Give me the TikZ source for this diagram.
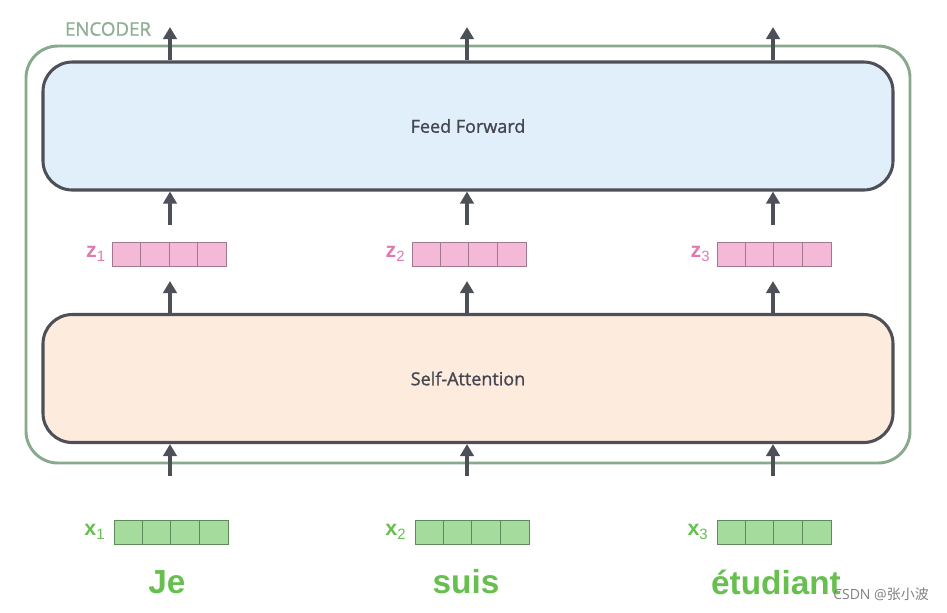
\documentclass[tikz,border=0pt]{standalone}
\usepackage{fontspec}
\setmainfont{Open Sans}
\setsansfont{Liberation Sans}
\newfontfamily\cjkfont{Noto Sans CJK SC}
\newfontfamily\semifont[FakeBold=1.2]{Open Sans}
\usetikzlibrary{arrows.meta}

\definecolor{boxline}{HTML}{4E5058}
\definecolor{ffblue}{HTML}{E1EFFB}
\definecolor{safill}{HTML}{FDEBDD}
\definecolor{encgreen}{HTML}{88A98C}
\definecolor{enctext}{HTML}{8FAE94}
\definecolor{zfill}{HTML}{F5B9D8}
\definecolor{zline}{HTML}{A07A8C}
\definecolor{zlabel}{HTML}{E07AAE}
\definecolor{xfill}{HTML}{A6DB9E}
\definecolor{xline}{HTML}{5E8A5A}
\definecolor{wordgreen}{HTML}{66BF4F}
\definecolor{labelgray}{HTML}{44474F}

\tikzset{
    encbox/.style={draw=encgreen, line width=2.2pt, rounded corners=24pt,
        minimum width=663pt, minimum height=312.75pt},
    layerbox/.style={draw=boxline, line width=2.3pt, rounded corners=22pt,
        minimum width=637.5pt, minimum height=96pt, text=labelgray,
        font=\semifont\fontsize{13.5}{15}\selectfont},
    uparrow/.style={draw=boxline, line width=2.5pt, -{Triangle[width=10pt,length=9pt]}},
    veclabel/.style={anchor=east, inner sep=0pt, font=\sffamily\bfseries\fontsize{16}{18}\selectfont},
    word/.style={inner sep=0pt, text=wordgreen, font=\sffamily\bfseries\fontsize{25}{28}\selectfont}
}

% name, x, y, fill, line
\newcommand\cellrow[5]{
    \node[draw=#5, fill=#4, line width=0.6pt, minimum width=85.5pt,
        minimum height=18pt, inner sep=0pt] (#1) at (#2,#3) {};
    \foreach \k in {1,2,3}
        \draw[#5, line width=0.6pt] ([xshift=\k*21.375pt]#1.north west) -- ([xshift=\k*21.375pt]#1.south west);
}

\begin{document}
\begin{tikzpicture}[x=0.75pt, y=-0.75pt]
    \useasboundingbox (0,0) rectangle (947,612);

    % encoder frame
    \node[encbox] (enc) at (468,254.5) {};
    \node[text=enctext, font=\semifont\fontsize{14}{16}\selectfont, inner sep=0pt] (enclab) at (108,29) {ENCODER};

    % layers
    \node[layerbox, fill=ffblue] (ff) at (468,126) {Feed Forward};
    \node[layerbox, fill=safill] (sa) at (468,378.5) {Self-Attention};

    % z vectors
    \cellrow{z1}{169.5}{254}{zfill}{zline}
    \cellrow{z2}{469}{254}{zfill}{zline}
    \cellrow{z3}{774}{254}{zfill}{zline}
    \node[veclabel, text=zlabel] (z1lab) at ([xshift=-4.5pt]z1.west) {z\textsubscript{\normalfont\sffamily 1}};
    \node[veclabel, text=zlabel] (z2lab) at ([xshift=-4.5pt]z2.west) {z\textsubscript{\normalfont\sffamily 2}};
    \node[veclabel, text=zlabel] (z3lab) at ([xshift=-4.5pt]z3.west) {z\textsubscript{\normalfont\sffamily 3}};

    % x vectors
    \cellrow{x1}{171}{532}{xfill}{xline}
    \cellrow{x2}{472}{532}{xfill}{xline}
    \cellrow{x3}{774}{532}{xfill}{xline}
    \node[veclabel, text=wordgreen] (x1lab) at ([xshift=-6pt]x1.west) {x\textsubscript{\normalfont\sffamily 1}};
    \node[veclabel, text=wordgreen] (x2lab) at ([xshift=-6pt]x2.west) {x\textsubscript{\normalfont\sffamily 2}};
    \node[veclabel, text=wordgreen] (x3lab) at ([xshift=-6pt]x3.west) {x\textsubscript{\normalfont\sffamily 3}};

    % words
    \node[word] (je) at (167,582) {Je};
    \node[word] (suis) at (466,582) {suis};
    \node[word] (etud) at (776,582) {étudiant};

    % arrows into self-attention
    \coordinate (in1) at (170,476);
    \coordinate (in2) at (467,476);
    \coordinate (in3) at (773,476);
    \foreach \i in {1,2,3}
        \draw[uparrow] (in\i) -- (in\i |- sa.south);

    % self-attention to z, z to feed forward
    \draw[uparrow] (sa.north -| in1) -- (in1 |- 0,281);
    \draw[uparrow] (sa.north -| in2) -- (in2 |- 0,281);
    \draw[uparrow] (sa.north -| in3) -- (in3 |- 0,281);
    \draw[uparrow] (in1 |- 0,225) -- (in1 |- ff.south);
    \draw[uparrow] (in2 |- 0,225) -- (in2 |- ff.south);
    \draw[uparrow] (in3 |- 0,225) -- (in3 |- ff.south);

    % outputs
    \coordinate (out1) at (170,27);
    \coordinate (out2) at (467,27);
    \coordinate (out3) at (773,27);
    \foreach \i in {1,2,3}
        \draw[uparrow] (ff.north -| out\i) -- (out\i);

    % watermark
    \node[text=black!50, font=\fontsize{10.5}{12}\selectfont, inner sep=0pt, anchor=west] (mark) at (833,594) {CSDN @{\cjkfont 张小波}};
\end{tikzpicture}
\end{document}
